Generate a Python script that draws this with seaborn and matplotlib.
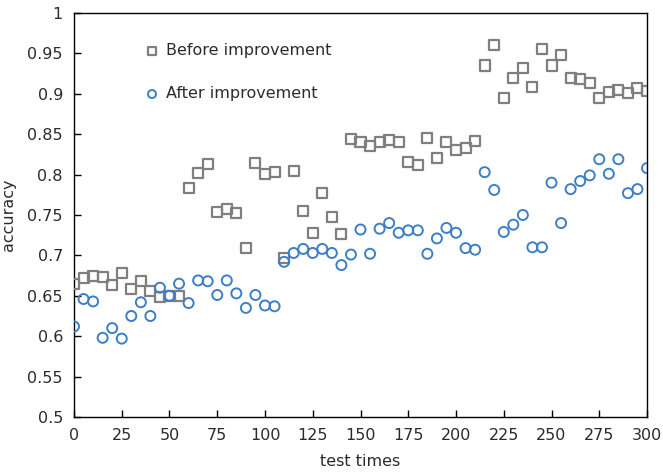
import matplotlib
matplotlib.use("Agg")
import matplotlib.pyplot as plt
import seaborn as sns
import numpy as np
import pandas as pd

# ── Data ──────────────────────────────────────────────────────────────────────
test_times = list(range(0, 301, 5))

before = [
    0.665, 0.672, 0.675, 0.673, 0.663, 0.678, 0.659, 0.668, 0.656, 0.648,
    0.650, 0.650, 0.783, 0.802, 0.813, 0.754, 0.757, 0.752, 0.709, 0.814,
    0.801, 0.803, 0.697, 0.805, 0.755, 0.728, 0.777, 0.748, 0.727, 0.844,
    0.840, 0.835, 0.840, 0.843, 0.840, 0.816, 0.812, 0.845, 0.821, 0.840,
    0.830, 0.833, 0.842, 0.935, 0.960, 0.895, 0.920, 0.932, 0.908, 0.955,
    0.935, 0.948, 0.920, 0.918, 0.913, 0.895, 0.902, 0.905, 0.901, 0.907,
    0.904,
]

after = [
    0.612, 0.646, 0.643, 0.598, 0.610, 0.597, 0.625, 0.642, 0.625, 0.660,
    0.650, 0.665, 0.641, 0.669, 0.668, 0.651, 0.669, 0.653, 0.635, 0.651,
    0.638, 0.637, 0.692, 0.703, 0.708, 0.703, 0.708, 0.703, 0.688, 0.701,
    0.732, 0.702, 0.733, 0.740, 0.728, 0.731, 0.731, 0.702, 0.721, 0.734,
    0.728, 0.709, 0.707, 0.803, 0.781, 0.729, 0.738, 0.750, 0.710, 0.710,
    0.790, 0.740, 0.782, 0.792, 0.799, 0.819, 0.801, 0.819, 0.777, 0.782,
    0.808,
]

x_ticks = list(range(0, 301, 25))
y_ticks = [0.5, 0.55, 0.6, 0.65, 0.7, 0.75, 0.8, 0.85, 0.9, 0.95, 1.0]

GRAY = "#7F7F7F"
BLUE = "#3D7EC6"
TEXT_C = "#2B2B2B"

df = pd.DataFrame({"test times": test_times, "before": before, "after": after})

sns.set_style("ticks")
plt.rcParams["font.family"] = ["DejaVu Sans"]

fig = plt.figure(figsize=(6.63, 4.74), dpi=100)
ax = fig.add_axes([0.1116, 0.1203, 0.8643, 0.8523])

sns.scatterplot(data=df, x="test times", y="before", marker="s", s=52,
                facecolor="none", edgecolor=GRAY, linewidth=1.6,
                label="Before improvement", ax=ax, zorder=3)
sns.scatterplot(data=df, x="test times", y="after", marker="o", s=52,
                facecolor="none", edgecolor=BLUE, linewidth=1.4,
                label="After improvement", ax=ax, zorder=3)

ax.set_xlim(0, 300)
ax.set_ylim(0.5, 1.0)
ax.set_xticks(x_ticks)
ax.set_yticks(y_ticks)
ax.set_yticklabels([f"{v:g}" for v in y_ticks])
ax.tick_params(axis="both", which="major", direction="in", length=5, width=1,
               color="black", labelcolor=TEXT_C, labelsize=11.5,
               top=False, right=False, left=True, bottom=True)
ax.tick_params(axis="x", pad=8)
ax.tick_params(axis="y", pad=8)
for spine in ax.spines.values():
    spine.set_visible(True)
    spine.set_edgecolor("black")
    spine.set_linewidth(1.0)

ax.set_xlabel("test times", fontsize=11.5, color=TEXT_C, labelpad=8)
ax.set_ylabel("accuracy", fontsize=11.5, color=TEXT_C, labelpad=8)
ax.grid(False)

ax.legend(loc="upper left", bbox_to_anchor=(0.125, 0.925), frameon=False,
          fontsize=11.5, markerscale=0.8, handlelength=0.8, handletextpad=0.45,
          borderpad=0, borderaxespad=0, labelspacing=1.75, labelcolor=TEXT_C)

fig.savefig("out.png", dpi=100, facecolor="white")
